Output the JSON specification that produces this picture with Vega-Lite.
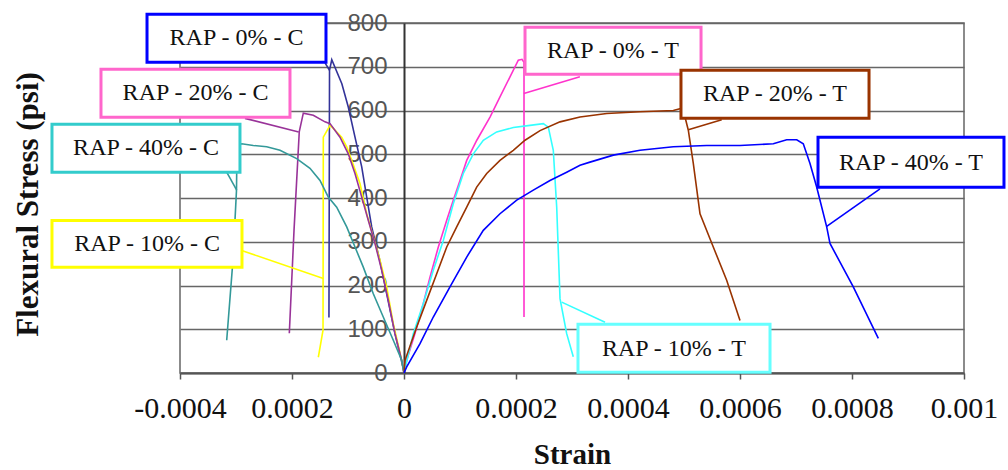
{
  "$schema": "https://vega.github.io/schema/vega-lite/v6.json",
  "autosize": "none",
  "width": 784,
  "height": 350,
  "padding": {"left": 180, "top": 23, "right": 44, "bottom": 97},
  "background": "white",
  "config": {
    "view": {"stroke": "#666666", "strokeWidth": 1.5},
    "line": {"strokeWidth": 1.6}
  },
  "datasets": {
    "curves": [
      {"s":"0C","p":"c","i":0,"x":0,"y":0},{"s":"0C","p":"c","i":1,"x":-0.0000013,"y":10},{"s":"0C","p":"c","i":2,"x":-0.0000161,"y":90},{"s":"0C","p":"c","i":3,"x":-0.0000309,"y":181},{"s":"0C","p":"c","i":4,"x":-0.0000429,"y":256},{"s":"0C","p":"c","i":5,"x":-0.0000577,"y":334},{"s":"0C","p":"c","i":6,"x":-0.0000666,"y":402},{"s":"0C","p":"c","i":7,"x":-0.0000755,"y":471},{"s":"0C","p":"c","i":8,"x":-0.0000875,"y":539},{"s":"0C","p":"c","i":9,"x":-0.0000995,"y":608},{"s":"0C","p":"c","i":10,"x":-0.000111,"y":661},{"s":"0C","p":"c","i":11,"x":-0.000129,"y":716},{"s":"0C","p":"c","i":12,"x":-0.000133,"y":692},{"s":"0C","p":"c","i":13,"x":-0.000134,"y":127},
      {"s":"10C","p":"c","i":0,"x":0,"y":0},{"s":"10C","p":"c","i":1,"x":-0.0000041,"y":29},{"s":"10C","p":"c","i":2,"x":-0.0000191,"y":113},{"s":"10C","p":"c","i":3,"x":-0.0000309,"y":197},{"s":"10C","p":"c","i":4,"x":-0.0000429,"y":258},{"s":"10C","p":"c","i":5,"x":-0.0000548,"y":311},{"s":"10C","p":"c","i":6,"x":-0.0000666,"y":364},{"s":"10C","p":"c","i":7,"x":-0.0000786,"y":433},{"s":"10C","p":"c","i":8,"x":-0.0000934,"y":486},{"s":"10C","p":"c","i":9,"x":-0.0001023,"y":517},{"s":"10C","p":"c","i":10,"x":-0.0001113,"y":539},{"s":"10C","p":"c","i":11,"x":-0.0001263,"y":559},{"s":"10C","p":"c","i":12,"x":-0.0001321,"y":566},{"s":"10C","p":"c","i":13,"x":-0.0001441,"y":539},{"s":"10C","p":"c","i":14,"x":-0.0001446,"y":98},{"s":"10C","p":"c","i":15,"x":-0.000153,"y":36},
      {"s":"20C","p":"c","i":0,"x":0,"y":0},{"s":"20C","p":"c","i":1,"x":-0.0000041,"y":29},{"s":"20C","p":"c","i":2,"x":-0.0000161,"y":90},{"s":"20C","p":"c","i":3,"x":-0.000028,"y":166},{"s":"20C","p":"c","i":4,"x":-0.0000398,"y":235},{"s":"20C","p":"c","i":5,"x":-0.0000518,"y":296},{"s":"20C","p":"c","i":6,"x":-0.0000638,"y":349},{"s":"20C","p":"c","i":7,"x":-0.0000755,"y":402},{"s":"20C","p":"c","i":8,"x":-0.0000875,"y":456},{"s":"20C","p":"c","i":9,"x":-0.0000995,"y":501},{"s":"20C","p":"c","i":10,"x":-0.0001143,"y":539},{"s":"20C","p":"c","i":11,"x":-0.0001321,"y":570},{"s":"20C","p":"c","i":12,"x":-0.0001411,"y":574},{"s":"20C","p":"c","i":13,"x":-0.000162,"y":589},{"s":"20C","p":"c","i":14,"x":-0.0001798,"y":594},{"s":"20C","p":"c","i":15,"x":-0.000187,"y":552},{"s":"20C","p":"c","i":16,"x":-0.0001964,"y":326},{"s":"20C","p":"c","i":17,"x":-0.0002048,"y":91},
      {"s":"40C","p":"c","i":0,"x":0,"y":0},{"s":"40C","p":"c","i":1,"x":-0.0000041,"y":29},{"s":"40C","p":"c","i":2,"x":-0.0000191,"y":75},{"s":"40C","p":"c","i":3,"x":-0.000037,"y":128},{"s":"40C","p":"c","i":4,"x":-0.0000548,"y":181},{"s":"40C","p":"c","i":5,"x":-0.0000727,"y":242},{"s":"40C","p":"c","i":6,"x":-0.0000875,"y":288},{"s":"40C","p":"c","i":7,"x":-0.0001023,"y":334},{"s":"40C","p":"c","i":8,"x":-0.0001202,"y":379},{"s":"40C","p":"c","i":9,"x":-0.0001352,"y":402},{"s":"40C","p":"c","i":10,"x":-0.00015,"y":440},{"s":"40C","p":"c","i":11,"x":-0.0001679,"y":468},{"s":"40C","p":"c","i":12,"x":-0.0001916,"y":490},{"s":"40C","p":"c","i":13,"x":-0.0002214,"y":509},{"s":"40C","p":"c","i":14,"x":-0.0002452,"y":517},{"s":"40C","p":"c","i":15,"x":-0.0002691,"y":520},{"s":"40C","p":"c","i":16,"x":-0.0002898,"y":524},{"s":"40C","p":"c","i":17,"x":-0.0002982,"y":520},{"s":"40C","p":"c","i":18,"x":-0.0002991,"y":418},{"s":"40C","p":"c","i":19,"x":-0.0003054,"y":258},{"s":"40C","p":"c","i":20,"x":-0.0003166,"y":75},
      {"s":"0T","p":"c","i":0,"x":0,"y":0},{"s":"0T","p":"c","i":1,"x":0.0000048,"y":29},{"s":"0T","p":"c","i":2,"x":0.0000196,"y":90},{"s":"0T","p":"c","i":3,"x":0.0000345,"y":159},{"s":"0T","p":"c","i":4,"x":0.0000464,"y":219},{"s":"0T","p":"c","i":5,"x":0.0000613,"y":288},{"s":"0T","p":"c","i":6,"x":0.0000763,"y":349},{"s":"0T","p":"c","i":7,"x":0.000088,"y":395},{"s":"0T","p":"c","i":8,"x":0.0001,"y":440},{"s":"0T","p":"c","i":9,"x":0.000112,"y":486},{"s":"0T","p":"c","i":10,"x":0.00013,"y":532},{"s":"0T","p":"c","i":11,"x":0.0001536,"y":585},{"s":"0T","p":"c","i":12,"x":0.0001714,"y":631},{"s":"0T","p":"c","i":13,"x":0.0001893,"y":677},{"s":"0T","p":"c","i":14,"x":0.0002041,"y":715},{"s":"0T","p":"c","i":15,"x":0.0002107,"y":717},{"s":"0T","p":"c","i":16,"x":0.0002143,"y":710},{"s":"0T","p":"c","i":17,"x":0.0002143,"y":128},
      {"s":"10T","p":"c","i":0,"x":0,"y":0},{"s":"10T","p":"c","i":1,"x":0.0000166,"y":90},{"s":"10T","p":"c","i":2,"x":0.0000345,"y":159},{"s":"10T","p":"c","i":3,"x":0.0000523,"y":235},{"s":"10T","p":"c","i":4,"x":0.0000702,"y":303},{"s":"10T","p":"c","i":5,"x":0.000088,"y":387},{"s":"10T","p":"c","i":6,"x":0.0001059,"y":456},{"s":"10T","p":"c","i":7,"x":0.0001238,"y":501},{"s":"10T","p":"c","i":8,"x":0.0001416,"y":532},{"s":"10T","p":"c","i":9,"x":0.0001655,"y":551},{"s":"10T","p":"c","i":10,"x":0.0001952,"y":561},{"s":"10T","p":"c","i":11,"x":0.000225,"y":566},{"s":"10T","p":"c","i":12,"x":0.0002488,"y":570},{"s":"10T","p":"c","i":13,"x":0.0002577,"y":562},{"s":"10T","p":"c","i":14,"x":0.0002666,"y":509},{"s":"10T","p":"c","i":15,"x":0.0002727,"y":379},{"s":"10T","p":"c","i":16,"x":0.0002786,"y":170},{"s":"10T","p":"c","i":17,"x":0.0002905,"y":90},{"s":"10T","p":"c","i":18,"x":0.0003023,"y":37},
      {"s":"20T","p":"c","i":0,"x":0,"y":0},{"s":"20T","p":"c","i":1,"x":0.0000018,"y":29},{"s":"20T","p":"c","i":2,"x":0.0000227,"y":105},{"s":"20T","p":"c","i":3,"x":0.0000405,"y":166},{"s":"20T","p":"c","i":4,"x":0.0000584,"y":227},{"s":"20T","p":"c","i":5,"x":0.0000763,"y":288},{"s":"20T","p":"c","i":6,"x":0.0000941,"y":334},{"s":"20T","p":"c","i":7,"x":0.000112,"y":379},{"s":"20T","p":"c","i":8,"x":0.0001298,"y":425},{"s":"20T","p":"c","i":9,"x":0.0001477,"y":456},{"s":"20T","p":"c","i":10,"x":0.0001714,"y":486},{"s":"20T","p":"c","i":11,"x":0.0001952,"y":509},{"s":"20T","p":"c","i":12,"x":0.0002161,"y":532},{"s":"20T","p":"c","i":13,"x":0.0002429,"y":554},{"s":"20T","p":"c","i":14,"x":0.0002786,"y":574},{"s":"20T","p":"c","i":15,"x":0.0003143,"y":585},{"s":"20T","p":"c","i":16,"x":0.000362,"y":593},{"s":"20T","p":"c","i":17,"x":0.0004214,"y":597},{"s":"20T","p":"c","i":18,"x":0.0004809,"y":600},{"s":"20T","p":"c","i":19,"x":0.0004964,"y":605},{"s":"20T","p":"c","i":20,"x":0.0005,"y":594},{"s":"20T","p":"c","i":21,"x":0.0005077,"y":555},{"s":"20T","p":"c","i":22,"x":0.0005166,"y":479},{"s":"20T","p":"c","i":23,"x":0.0005286,"y":364},{"s":"20T","p":"c","i":24,"x":0.0005523,"y":288},{"s":"20T","p":"c","i":25,"x":0.0005762,"y":212},{"s":"20T","p":"c","i":26,"x":0.0006,"y":120},
      {"s":"40T","p":"c","i":0,"x":0,"y":0},{"s":"40T","p":"c","i":1,"x":0.0000048,"y":14},{"s":"40T","p":"c","i":2,"x":0.0000286,"y":67},{"s":"40T","p":"c","i":3,"x":0.0000523,"y":128},{"s":"40T","p":"c","i":4,"x":0.0000821,"y":197},{"s":"40T","p":"c","i":5,"x":0.000112,"y":265},{"s":"40T","p":"c","i":6,"x":0.0001416,"y":326},{"s":"40T","p":"c","i":7,"x":0.0001714,"y":364},{"s":"40T","p":"c","i":8,"x":0.0002013,"y":395},{"s":"40T","p":"c","i":9,"x":0.0002309,"y":418},{"s":"40T","p":"c","i":10,"x":0.0002607,"y":440},{"s":"40T","p":"c","i":11,"x":0.0002905,"y":459},{"s":"40T","p":"c","i":12,"x":0.0003143,"y":475},{"s":"40T","p":"c","i":13,"x":0.0003321,"y":482},{"s":"40T","p":"c","i":14,"x":0.0003738,"y":498},{"s":"40T","p":"c","i":15,"x":0.0004214,"y":509},{"s":"40T","p":"c","i":16,"x":0.0004809,"y":517},{"s":"40T","p":"c","i":17,"x":0.0005405,"y":520},{"s":"40T","p":"c","i":18,"x":0.0006,"y":520},{"s":"40T","p":"c","i":19,"x":0.0006595,"y":524},{"s":"40T","p":"c","i":20,"x":0.0006834,"y":533},{"s":"40T","p":"c","i":21,"x":0.0007013,"y":533},{"s":"40T","p":"c","i":22,"x":0.000713,"y":524},{"s":"40T","p":"c","i":23,"x":0.000725,"y":479},{"s":"40T","p":"c","i":24,"x":0.0007369,"y":425},{"s":"40T","p":"c","i":25,"x":0.0007548,"y":334},{"s":"40T","p":"c","i":26,"x":0.0007607,"y":296},{"s":"40T","p":"c","i":27,"x":0.0008023,"y":197},{"s":"40T","p":"c","i":28,"x":0.000847,"y":79},
      {"s":"0C","p":"l","i":0,"x":-0.000141,"y":709},{"s":"0C","p":"l","i":1,"x":-0.000133,"y":692},
      {"s":"20C","p":"l","i":0,"x":-0.000284,"y":582},{"s":"20C","p":"l","i":1,"x":-0.000188,"y":551},
      {"s":"40C","p":"l","i":0,"x":-0.0003166,"y":459},{"s":"40C","p":"l","i":1,"x":-0.0002988,"y":418},
      {"s":"10C","p":"l","i":0,"x":-0.00029,"y":280},{"s":"10C","p":"l","i":1,"x":-0.000144,"y":216},
      {"s":"0T","p":"l","i":0,"x":0.000214,"y":639},{"s":"0T","p":"l","i":1,"x":0.000314,"y":677},
      {"s":"10T","p":"l","i":0,"x":0.0002816,"y":162},{"s":"10T","p":"l","i":1,"x":0.000359,"y":116},
      {"s":"20T","p":"l","i":0,"x":0.0005077,"y":556},{"s":"20T","p":"l","i":1,"x":0.0005673,"y":579},
      {"s":"40T","p":"l","i":0,"x":0.0007548,"y":335},{"s":"40T","p":"l","i":1,"x":0.00085,"y":421}
    ],
    "boxes": [
      {"s":"0C","label":"RAP - 0% - C","x1":-0.0004589,"x2":-0.0001393,"y1":819.9,"y2":710.2,"tx":-0.0002991,"ty":765},
      {"s":"20C","label":"RAP - 20% - C","x1":-0.0005411,"x2":-0.0002036,"y1":694.2,"y2":584.5,"tx":-0.0003723,"ty":639},
      {"s":"40C","label":"RAP - 40% - C","x1":-0.0006286,"x2":-0.0002929,"y1":568.5,"y2":458.7,"tx":-0.0004607,"ty":514},
      {"s":"10C","label":"RAP - 10% - C","x1":-0.0006286,"x2":-0.0002893,"y1":348.5,"y2":241.6,"tx":-0.0004589,"ty":295},
      {"s":"0T","label":"RAP - 0% - T","x1":0.0002161,"x2":0.0005304,"y1":790.2,"y2":682.7,"tx":0.0003732,"ty":736},
      {"s":"20T","label":"RAP - 20% - T","x1":0.0004946,"x2":0.0008304,"y1":691.9,"y2":582.2,"tx":0.0006625,"ty":637},
      {"s":"40T","label":"RAP - 40% - T","x1":0.0007393,"x2":0.0010714,"y1":538.7,"y2":424.5,"tx":0.0009054,"ty":481},
      {"s":"10T","label":"RAP - 10% - T","x1":0.0003107,"x2":0.0006536,"y1":111.3,"y2":1.6,"tx":0.0004821,"ty":56}
    ]
  },
  "layer": [
    {
      "data": {"name": "curves"},
      "mark": {"type": "line", "strokeWidth": 1.6},
      "encoding": {
        "x": {
          "field": "x", "type": "quantitative",
          "scale": {"domain": [-0.0004, 0.001], "nice": false, "zero": false},
          "axis": {
            "title": "Strain",
            "values": [-0.0004, -0.0002, 0, 0.0002, 0.0004, 0.0006, 0.0008, 0.001],
            "labelExpr": "datum.value < -0.0003 ? '-0.0004' : datum.value < -0.0001 ? '0.0002' : datum.value < 0.0001 ? '0' : datum.value < 0.0003 ? '0.0002' : datum.value < 0.0005 ? '0.0004' : datum.value < 0.0007 ? '0.0006' : datum.value < 0.0009 ? '0.0008' : '0.001'",
            "grid": false,
            "domainColor": "#555555", "domainWidth": 2,
            "tickColor": "#555555", "tickSize": 6, "tickWidth": 1.5,
            "labelFont": "Liberation Serif", "labelFontSize": 30, "labelColor": "#111111",
            "labelPadding": 14, "labelOverlap": false, "labelFlush": false,
            "titleFont": "Liberation Serif", "titleFontSize": 29, "titleFontWeight": "bold", "titleColor": "#111111",
            "titleBaseline": "alphabetic", "titleY": 90
          }
        },
        "y": {
          "field": "y", "type": "quantitative",
          "scale": {"domain": [0, 800], "nice": false},
          "axis": {
            "title": "Flexural Stress (psi)",
            "values": [0, 100, 200, 300, 400, 500, 600, 700, 800],
            "offset": -224,
            "grid": true, "gridColor": "#666666", "gridWidth": 1.6,
            "domainColor": "#333333", "domainWidth": 2,
            "ticks": false,
            "labelFont": "Liberation Sans", "labelFontSize": 24, "labelColor": "#555555",
            "labelPadding": 17,
            "titleFont": "Liberation Serif", "titleFontSize": 31, "titleFontWeight": "bold", "titleColor": "#111111",
            "titleAngle": -90, "titleAlign": "center", "titleBaseline": "alphabetic",
            "titleX": -367, "titleY": 181
          }
        },
        "color": {
          "field": "s", "type": "nominal", "legend": null,
          "scale": {
            "domain": ["0C", "10C", "20C", "40C", "0T", "10T", "20T", "40T"],
            "range": ["#333399", "#ffff00", "#993399", "#339999", "#ff33cc", "#33ffff", "#993300", "#0000ff"]
          }
        },
        "detail": {"field": "p", "type": "nominal"},
        "order": {"field": "i", "type": "quantitative"}
      }
    },
    {
      "data": {"name": "boxes"},
      "mark": {"type": "rect", "fill": "white", "strokeWidth": 3},
      "encoding": {
        "x": {"field": "x1", "type": "quantitative"},
        "x2": {"field": "x2"},
        "y": {"field": "y1", "type": "quantitative"},
        "y2": {"field": "y2"},
        "stroke": {
          "field": "s", "type": "nominal", "legend": null,
          "scale": {
            "domain": ["0C", "10C", "20C", "40C", "0T", "10T", "20T", "40T"],
            "range": ["#0000ff", "#ffff00", "#ff66cc", "#33cccc", "#ff66cc", "#66ffff", "#993300", "#0000ff"]
          }
        }
      }
    },
    {
      "data": {"name": "boxes"},
      "mark": {"type": "text", "font": "Liberation Serif", "fontSize": 24, "color": "#111111", "baseline": "middle", "align": "center"},
      "encoding": {
        "x": {"field": "tx", "type": "quantitative"},
        "y": {"field": "ty", "type": "quantitative"},
        "text": {"field": "label", "type": "nominal"}
      }
    }
  ]
}
